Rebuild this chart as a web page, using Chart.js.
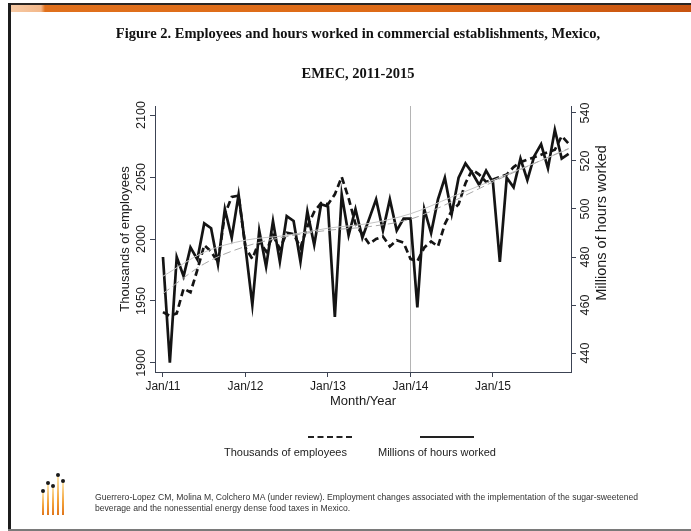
<!DOCTYPE html>
<html>
<head>
<meta charset="utf-8">
<script src="https://cdn.jsdelivr.net/npm/chart.js@4.4.0/dist/chart.umd.min.js"></script>
<style>
  body { margin:0; width:691px; height:531px; position:relative; background:#fff; overflow:hidden; }
  #chart { position:absolute; left:0; top:0; }
  .edge-top { position:absolute; left:9px; right:0; top:3px; height:2px; background:#2a2522; }
  .band { position:absolute; left:11px; right:0; top:5px; height:7px;
          background:linear-gradient(to right, #f6c9a4 0px, #f3b88a 30px, #e0701c 34px, #de6a16 60%, #c85410 100%); }
  .edge-left { position:absolute; left:8px; top:3px; width:3px; bottom:0; background:#1c1c1c; }
  .edge-bottom { position:absolute; left:8px; right:0; bottom:0; height:2px; background:#7a7a7a; }
  .title { position:absolute; left:0; width:716px; text-align:center; font:bold 14.5px "Liberation Serif", "Times New Roman", serif; color:#111; }
  .legend-key { position:absolute; height:0; }
  .legend-text { position:absolute; font:11px "Liberation Sans", Arial, sans-serif; color:#222; white-space:nowrap; }
  .cite { position:absolute; left:95px; font:8.6px "Liberation Sans", Arial, sans-serif; color:#333; white-space:nowrap; }
  .logo-bar { position:absolute; width:2px; background:linear-gradient(to bottom, #fde7b0, #f3a23a 60%, #e0751a); }
  .logo-dot { position:absolute; width:4px; height:4px; border-radius:50%; background:#1a1a1a; }
</style>
</head>
<body>
<div class="edge-top"></div>
<div class="band"></div>
<div class="edge-left"></div>
<div class="edge-bottom"></div>

<canvas id="chart" width="691" height="531"></canvas>

<div class="title" style="top:25px">Figure 2. Employees and hours worked in commercial establishments, Mexico,</div>
<div class="title" style="top:65px">EMEC, 2011-2015</div>

<div class="legend-key" style="left:308px; top:436px; width:44px; border-top:2px dashed #222;"></div>
<div class="legend-key" style="left:420px; top:436px; width:54px; border-top:2px solid #222;"></div>
<div class="legend-text" style="left:224px; top:446px;">Thousands of employees</div>
<div class="legend-text" style="left:378px; top:446px;">Millions of hours worked</div>

<div class="logo-bar" style="left:42px; top:492px; height:23px"></div>
<div class="logo-bar" style="left:47px; top:484px; height:31px"></div>
<div class="logo-bar" style="left:52px; top:486px; height:29px"></div>
<div class="logo-bar" style="left:57px; top:476px; height:39px"></div>
<div class="logo-bar" style="left:62px; top:482px; height:33px"></div>
<div class="logo-dot" style="left:41px; top:489px"></div>
<div class="logo-dot" style="left:46px; top:481px"></div>
<div class="logo-dot" style="left:51px; top:484px"></div>
<div class="logo-dot" style="left:56px; top:473px"></div>
<div class="logo-dot" style="left:61px; top:479px"></div>

<div class="cite" style="top:492px">Guerrero-Lopez CM, Molina M, Colchero MA (under review). Employment changes associated with the implementation of the sugar-sweetened</div>
<div class="cite" style="top:503px">beverage and the nonessential energy dense food taxes in Mexico.</div>

<script>
// monthly series, Jan 2011 .. Dec 2015
const employees = [
  1941, 1938, 1940, 1960, 1957, 1975, 1995, 1990, 1981, 2020, 2034, 2035,
  1993, 1984, 1998, 1990, 2003, 1992, 2005, 2004, 1993, 2010, 2022, 2029,
  2028, 2036, 2050, 2033, 2012, 2004, 1996, 2000, 2002, 1994, 1999, 1997,
  1984, 1982, 1993, 1998, 1994, 2012, 2023, 2028, 2045, 2056, 2052, 2046,
  2048, 2050, 2052, 2058, 2062, 2064, 2066, 2068, 2070, 2072, 2083, 2077
];
const hours = [
  480, 436, 480, 472, 484, 479, 494, 492, 477, 500, 488, 506,
  484, 460, 491, 476, 495, 478, 497, 495, 478, 499, 485, 502,
  501, 455, 506, 489, 500, 488, 496, 504, 491, 504, 491, 496,
  496, 459, 500, 490, 504, 513, 498, 513, 519, 515, 510, 516,
  511, 478, 513, 509, 521, 512, 522, 527, 517, 533, 521, 523
];

// smoothed trends, read every six months
const trendMonths = [0, 6, 12, 18, 24, 30, 36, 42, 48, 54, 59];
const employeesTrend = [1956, 1980, 1994, 2002, 2007, 2010, 2016, 2030, 2046, 2061, 2073];
const hoursTrend = [472, 482, 487, 489, 492, 494, 498, 505, 512, 519, 525];

const xTickMonths = [0, 12, 24, 36, 48];
const xTickLabels = ['Jan/11', 'Jan/12', 'Jan/13', 'Jan/14', 'Jan/15'];
const employeeTicks = [1900, 1950, 2000, 2050, 2100];
const hoursTicks = [440, 460, 480, 500, 520, 540];
const markerMonth = 36;

const axisColor = '#3c4353';
const textColor = '#1a1a1a';
const sans = '"Liberation Sans", Arial, sans-serif';

function points(xs, ys) {
  return ys.map((v, i) => ({ x: xs ? xs[i] : i, y: v }));
}

// vertical marker at Jan/14
const markerLine = {
  id: 'markerLine',
  beforeDatasetsDraw(chart) {
    const { ctx, chartArea, scales } = chart;
    const x = Math.round(scales.x.getPixelForValue(markerMonth)) + 0.5;
    ctx.save();
    ctx.strokeStyle = '#b4b4b4';
    ctx.lineWidth = 1;
    ctx.beginPath();
    ctx.moveTo(x, chartArea.top);
    ctx.lineTo(x, chartArea.bottom);
    ctx.stroke();
    ctx.restore();
  }
};

// rotated y tick labels and the axis titles
const axisText = {
  id: 'axisText',
  afterDraw(chart) {
    const { ctx, chartArea, scales } = chart;
    const vert = (text, x, y) => {
      ctx.save();
      ctx.translate(x, y);
      ctx.rotate(-Math.PI / 2);
      ctx.fillText(text, 0, 0);
      ctx.restore();
    };
    ctx.save();
    ctx.fillStyle = textColor;
    ctx.textAlign = 'center';
    ctx.textBaseline = 'middle';
    ctx.font = '12.5px ' + sans;
    employeeTicks.forEach(v => vert(String(v), chartArea.left - 13, scales.y.getPixelForValue(v)));
    hoursTicks.forEach(v => vert(String(v), chartArea.right + 15, scales.y1.getPixelForValue(v)));
    const midY = (chartArea.top + chartArea.bottom) / 2;
    ctx.font = '13px ' + sans;
    vert('Thousands of employees', chartArea.left - 30, midY);
    ctx.fillText('Month/Year', (chartArea.left + chartArea.right) / 2, chartArea.bottom + 29);
    ctx.font = '14.5px ' + sans;
    vert('Millions of hours worked', chartArea.right + 31, midY - 16);
    ctx.restore();
  }
};

const sideAxis = (pos, min, max, ticks, width) => ({
  type: 'linear',
  position: pos,
  min: min,
  max: max,
  afterBuildTicks: s => { s.ticks = ticks.map(v => ({ value: v })); },
  afterFit: s => { s.width = width; },
  ticks: { display: false },
  grid: { drawOnChartArea: false, drawTicks: true, tickLength: 5, color: axisColor },
  border: { display: true, color: axisColor, width: 1 }
});

new Chart(document.getElementById('chart'), {
  type: 'line',
  data: {
    datasets: [
      {
        label: 'Employees trend',
        data: points(trendMonths, employeesTrend),
        yAxisID: 'y',
        borderColor: '#a8a8a8',
        borderWidth: 1,
        borderDash: [8, 4],
        pointRadius: 0,
        cubicInterpolationMode: 'monotone'
      },
      {
        label: 'Hours trend',
        data: points(trendMonths, hoursTrend),
        yAxisID: 'y1',
        borderColor: '#c4c4c4',
        borderWidth: 1,
        pointRadius: 0,
        cubicInterpolationMode: 'monotone'
      },
      {
        label: 'Thousands of employees',
        data: points(null, employees),
        yAxisID: 'y',
        borderColor: '#141414',
        borderWidth: 2.7,
        borderDash: [7, 4],
        pointRadius: 0,
        tension: 0
      },
      {
        label: 'Millions of hours worked',
        data: points(null, hours),
        yAxisID: 'y1',
        borderColor: '#141414',
        borderWidth: 2.7,
        pointRadius: 0,
        tension: 0
      }
    ]
  },
  options: {
    responsive: false,
    animation: false,
    layout: { padding: { top: 106, left: 0, right: 0, bottom: 0 } },
    plugins: { legend: { display: false }, tooltip: { enabled: false }, title: { display: false } },
    scales: {
      x: {
        type: 'linear',
        min: -1.16,
        max: 59.35,
        afterBuildTicks: s => { s.ticks = xTickMonths.map(v => ({ value: v })); },
        afterFit: s => { s.height = 159; },
        ticks: {
          callback: (v, i) => xTickLabels[i],
          autoSkip: false,
          maxRotation: 0,
          padding: 2,
          color: textColor,
          font: { family: sans, size: 12 }
        },
        grid: { drawOnChartArea: false, drawTicks: true, tickLength: 5, color: axisColor },
        border: { display: true, color: axisColor, width: 1 }
      },
      y: sideAxis('left', 1892.7, 2107.3, employeeTicks, 155),
      y1: sideAxis('right', 432.1, 542.9, hoursTicks, 120)
    }
  },
  plugins: [markerLine, axisText]
});
</script>
</body>
</html>
